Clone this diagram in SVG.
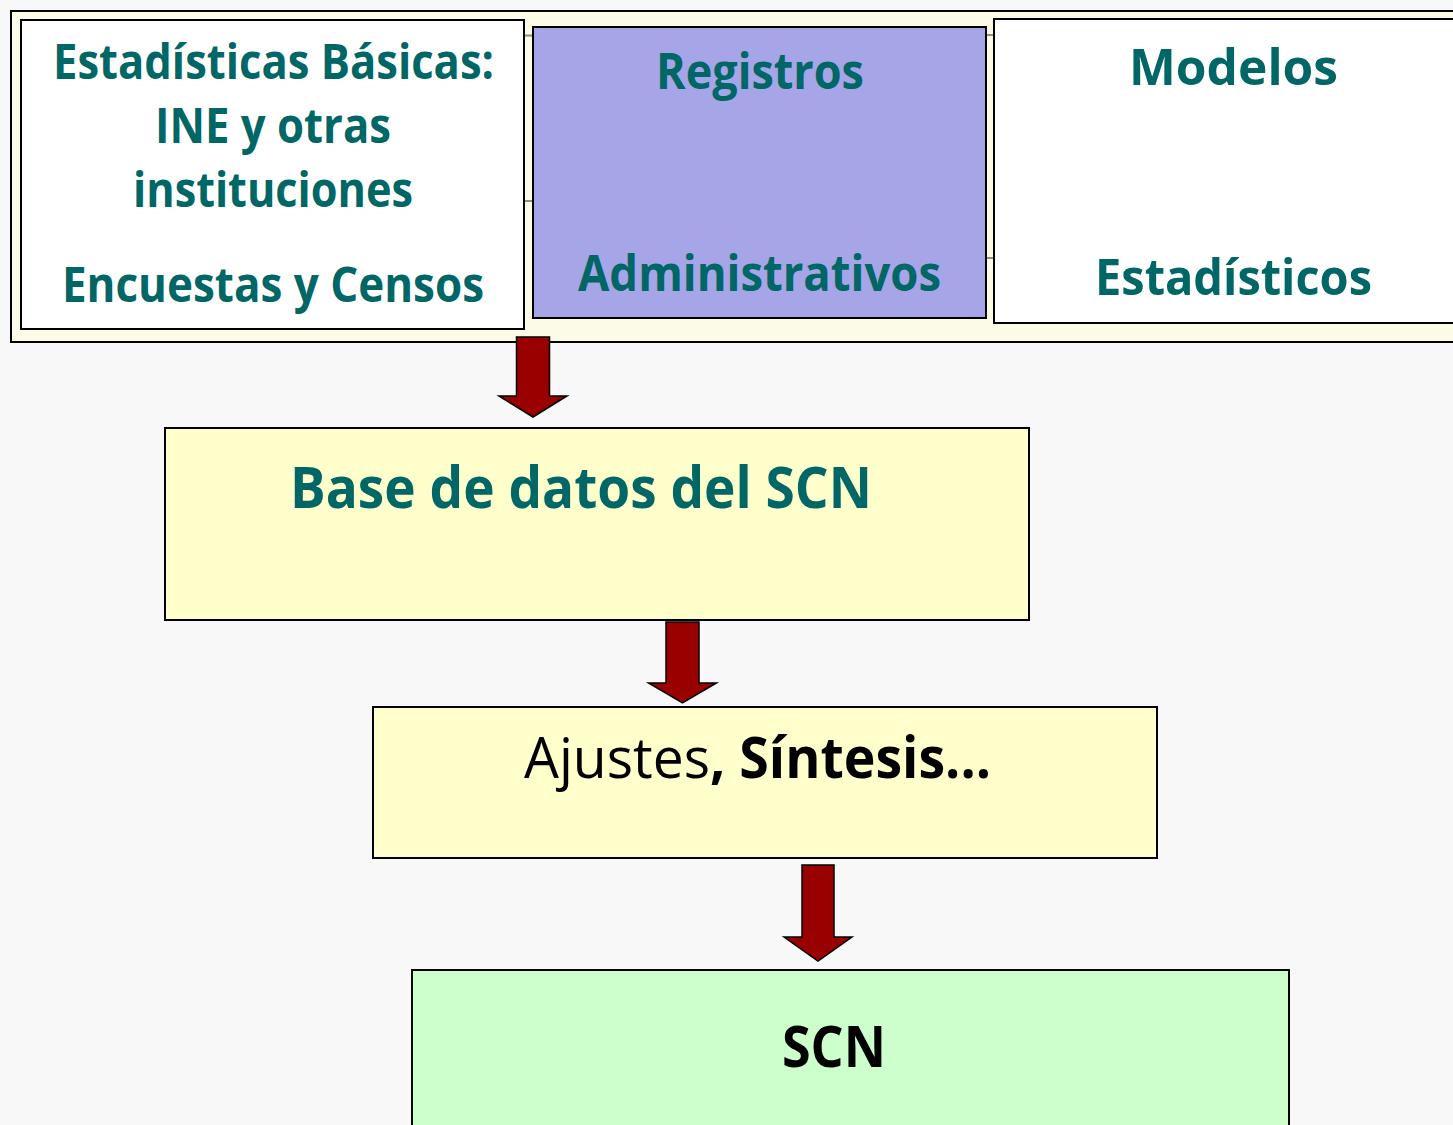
<svg xmlns="http://www.w3.org/2000/svg" width="1453" height="1125" viewBox="0 0 1453 1125">
<defs>
<style>
.bx{stroke:#000;stroke-width:2}
.teal{fill:#006666;font-family:"Open Sans","Noto Sans","Liberation Sans",sans-serif;font-weight:bold}
.blk{fill:#000;font-family:"Open Sans","Noto Sans","Liberation Sans",sans-serif}
.grid{stroke:#8c8c80;stroke-width:2}
.arrow{fill:#990000;stroke:#000;stroke-width:1.5;stroke-linejoin:miter}
</style>
</defs>
<rect x="0" y="0" width="1453" height="1125" fill="#f8f8f8"/>
<g id="fuentes">
<rect x="11" y="11" width="1460" height="331" fill="#fbfbe6" class="bx"/>
<line class="grid" x1="524" y1="35.5" x2="533" y2="35.5"/>
<line class="grid" x1="524" y1="201" x2="533" y2="201"/>
<line class="grid" x1="986" y1="35" x2="995" y2="35"/>
<line class="grid" x1="986" y1="258" x2="995" y2="258"/>
</g>
<g id="estadisticas-basicas">
<rect x="21" y="20" width="503" height="309" fill="#ffffff" class="bx"/>
<text class="teal" font-size="48" x="53" y="79" textLength="441" lengthAdjust="spacingAndGlyphs">Estadísticas Básicas:</text>
<text class="teal" font-size="48" x="155" y="143" textLength="236" lengthAdjust="spacingAndGlyphs">INE y otras</text>
<text class="teal" font-size="48" x="133" y="207" textLength="280" lengthAdjust="spacingAndGlyphs">instituciones</text>
<text class="teal" font-size="48" x="62" y="302" textLength="422" lengthAdjust="spacingAndGlyphs">Encuestas y Censos</text>
</g>
<g id="registros-administrativos">
<rect x="533" y="27" width="453" height="291" fill="#a5a5e8" class="bx"/>
<text class="teal" font-size="50" x="656" y="89" textLength="208" lengthAdjust="spacingAndGlyphs">Registros</text>
<text class="teal" font-size="50" x="578" y="291" textLength="363" lengthAdjust="spacingAndGlyphs">Administrativos</text>
</g>
<g id="modelos-estadisticos">
<rect x="994" y="19" width="480" height="304" fill="#ffffff" class="bx"/>
<text class="teal" font-size="50" x="1129" y="85" textLength="209" lengthAdjust="spacingAndGlyphs">Modelos</text>
<text class="teal" font-size="50" x="1095" y="295" textLength="277" lengthAdjust="spacingAndGlyphs">Estadísticos</text>
</g>
<g id="base-datos">
<rect x="165" y="428" width="864" height="192" fill="#ffffcc" class="bx"/>
<text class="teal" font-size="57" x="290" y="508" textLength="582" lengthAdjust="spacingAndGlyphs">Base de datos del SCN</text>
</g>
<g id="ajustes">
<rect x="373" y="707" width="784" height="151" fill="#ffffcc" class="bx"/>
<text class="blk" font-size="57" y="778"><tspan x="524" textLength="186" lengthAdjust="spacingAndGlyphs">Ajustes</tspan><tspan x="710" font-weight="bold" textLength="281" lengthAdjust="spacingAndGlyphs">, Síntesis...</tspan></text>
</g>
<g id="scn">
<rect x="412" y="970" width="877" height="170" fill="#ccffcc" class="bx"/>
<text class="blk" font-size="57" font-weight="bold" x="782" y="1067" textLength="104" lengthAdjust="spacingAndGlyphs">SCN</text>
</g>
<g id="connectors">
<path class="arrow" d="M516.5,337 H549.5 V396 H567 L533,417 L499,396 H516.5 Z"/>
<path class="arrow" d="M666,622 H699 V683 H716.5 L682.5,703 L648.5,683 H666 Z"/>
<path class="arrow" d="M802,865 H834 V937 H852 L818,961 L784,937 H802 Z"/>
</g>
</svg>
